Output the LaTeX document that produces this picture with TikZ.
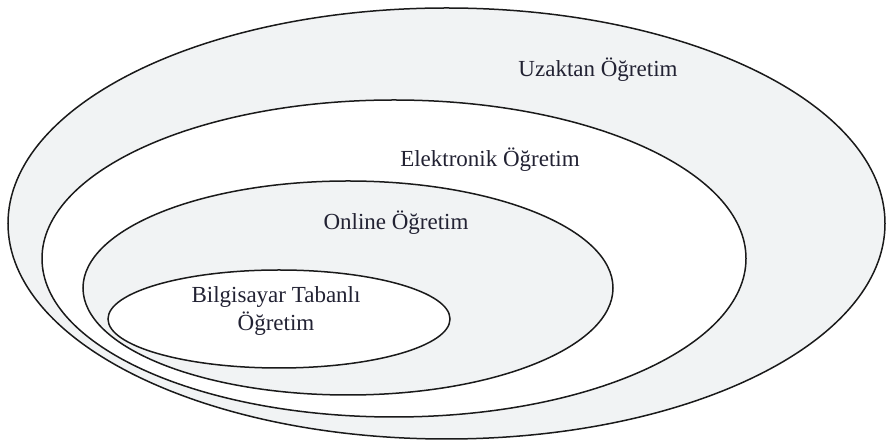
\documentclass[tikz,border=0pt]{standalone}
\usepackage{fontspec}
\setmainfont{Liberation Serif}
\definecolor{ringgray}{HTML}{F1F3F4}
\definecolor{inkline}{HTML}{1A1A1A}
\definecolor{labeltext}{HTML}{222233}
\begin{document}
\begin{tikzpicture}[x=0.5pt,y=-0.5pt,
  ring/.style={draw=inkline,line width=0.75pt},
  lbl/.style={inner sep=0pt,anchor=base,text=labeltext,font=\fontsize{11.5}{14}\selectfont}]
\useasboundingbox (0,0) rectangle (889,442);
\path[ring,fill=ringgray] (446.5,223.5) ellipse [x radius=219.25pt, y radius=107.75pt];
\path[ring,fill=white] (394,258.5) ellipse [x radius=176pt, y radius=79.25pt];
\path[ring,fill=ringgray] (348,288) ellipse [x radius=132.5pt, y radius=53.5pt];
\path[ring,fill=white] (279,319) ellipse [x radius=85.5pt, y radius=24.5pt];
\node[lbl] (uzaktan) at (598,77) {Uzaktan Öğretim};
\node[lbl] (elektronik) at (490,167) {Elektronik Öğretim};
\node[lbl] (online) at (396,230) {Online Öğretim};
\node[lbl] (bilgi1) at (276,303) {Bilgisayar Tabanlı};
\node[lbl] (bilgi2) at (276,331) {Öğretim};
\end{tikzpicture}
\end{document}
